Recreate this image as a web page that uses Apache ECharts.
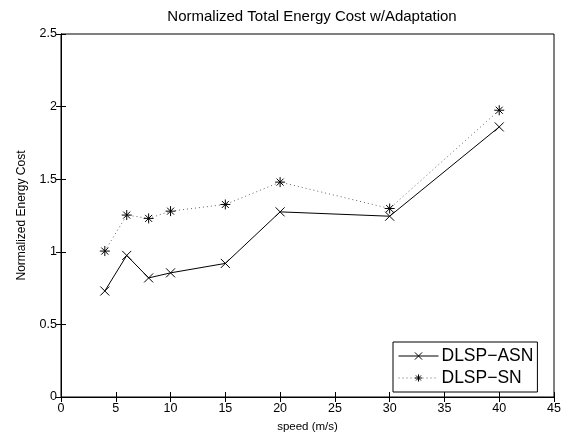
<!DOCTYPE html>
<html>
<head>
<meta charset="utf-8">
<script src="https://cdn.jsdelivr.net/npm/echarts@6/dist/echarts.min.js"></script>
<style>
html,body{margin:0;padding:0;background:#fff;}
#chart{width:569px;height:438px;}
</style>
</head>
<body>
<div id="chart"></div>
<script>
var speeds = [4, 6, 8, 10, 15, 20, 30, 40];
var asnValues = [0.73, 0.975, 0.82, 0.855, 0.92, 1.275, 1.245, 1.86];
var snValues = [1.005, 1.253, 1.23, 1.28, 1.326, 1.48, 1.298, 1.975];
var seriesNames = ['DLSP\u2212ASN', 'DLSP\u2212SN'];
var titleText = 'Normalized Total Energy Cost w/Adaptation';
var xLabel = 'speed (m/s)';
var yLabel = 'Normalized Energy Cost';

function pairs(xs, ys) { return xs.map(function (x, i) { return [x, ys[i]]; }); }

var FONT = 'Liberation Sans, Arial, Helvetica, sans-serif';
var crossPath = 'path://M0,0L10,10M10,0L0,10';
var starPath = 'path://M5,0L5,10M0,5L10,5M1.5,1.5L8.5,8.5M8.5,1.5L1.5,8.5';

var chart = echarts.init(document.getElementById('chart'), null, {renderer: 'canvas'});
chart.setOption({
  animation: false,
  backgroundColor: '#fff',
  title: {
    text: titleText, left: 307, textAlign: 'center', top: 4,
    textStyle: {fontFamily: FONT, fontSize: 15, fontWeight: 'normal', color: '#000'}
  },
  grid: {left: 61, right: 15, top: 34, bottom: 41, show: true, borderColor: '#000', borderWidth: 1, backgroundColor: '#fff'},
  legend: {
    orient: 'vertical', left: 393, top: 342, width: 150,
    backgroundColor: '#fff', borderColor: '#000', borderWidth: 1,
    padding: [5, 4, 5, 5], itemGap: 4, itemWidth: 40, itemHeight: 9,
    textStyle: {fontFamily: FONT, fontSize: 17.5, color: '#000', padding: [0, 0, 0, -2]},
    itemStyle: {borderWidth: 1},
    lineStyle: {width: 1},
    data: seriesNames
  },
  xAxis: [{
    type: 'value', min: 0, max: 45, interval: 5,
    name: xLabel, nameLocation: 'middle', nameGap: 24,
    nameTextStyle: {fontFamily: FONT, fontSize: 11.5, color: '#000'},
    axisLine: {show: true, lineStyle: {color: '#000', width: 1}},
    axisTick: {show: true, inside: true, length: 5, lineStyle: {color: '#000'}},
    axisLabel: {fontFamily: FONT, fontSize: 12.5, color: '#000', margin: 5},
    splitLine: {show: false}
  }, {
    type: 'value', min: 0, max: 45, interval: 5, position: 'top',
    axisLine: {show: true, lineStyle: {color: '#000', width: 1}},
    axisTick: {show: true, inside: true, length: 5, lineStyle: {color: '#000'}},
    axisLabel: {show: false}, splitLine: {show: false}
  }],
  yAxis: [{
    type: 'value', min: 0, max: 2.5, interval: 0.5,
    name: yLabel, nameLocation: 'middle', nameGap: 33, nameRotate: 90,
    nameTextStyle: {fontFamily: FONT, fontSize: 12, color: '#000'},
    axisLine: {show: true, lineStyle: {color: '#000', width: 1}},
    axisTick: {show: true, inside: true, length: 5, lineStyle: {color: '#000'}},
    axisLabel: {fontFamily: FONT, fontSize: 12.5, color: '#000', margin: 4},
    splitLine: {show: false}
  }, {
    type: 'value', min: 0, max: 2.5, interval: 0.5, position: 'right',
    axisLine: {show: true, lineStyle: {color: '#000', width: 1}},
    axisTick: {show: true, inside: true, length: 5, lineStyle: {color: '#000'}},
    axisLabel: {show: false}, splitLine: {show: false}
  }],
  series: [{
    name: seriesNames[0], type: 'line', xAxisIndex: 0, yAxisIndex: 0,
    data: pairs(speeds, asnValues),
    symbol: crossPath, symbolSize: 9, showAllSymbol: true,
    itemStyle: {color: 'rgba(0,0,0,0)', borderColor: '#000', borderWidth: 1},
    lineStyle: {color: '#000', width: 1, type: 'solid'},
    emphasis: {disabled: true}
  }, {
    name: seriesNames[1], type: 'line', xAxisIndex: 0, yAxisIndex: 0,
    data: pairs(speeds, snValues),
    symbol: starPath, symbolSize: 10, showAllSymbol: true,
    itemStyle: {color: 'rgba(0,0,0,0)', borderColor: '#000', borderWidth: 1},
    lineStyle: {color: '#666', width: 1, type: [1, 3]},
    emphasis: {disabled: true}
  }]
});
</script>
</body>
</html>
